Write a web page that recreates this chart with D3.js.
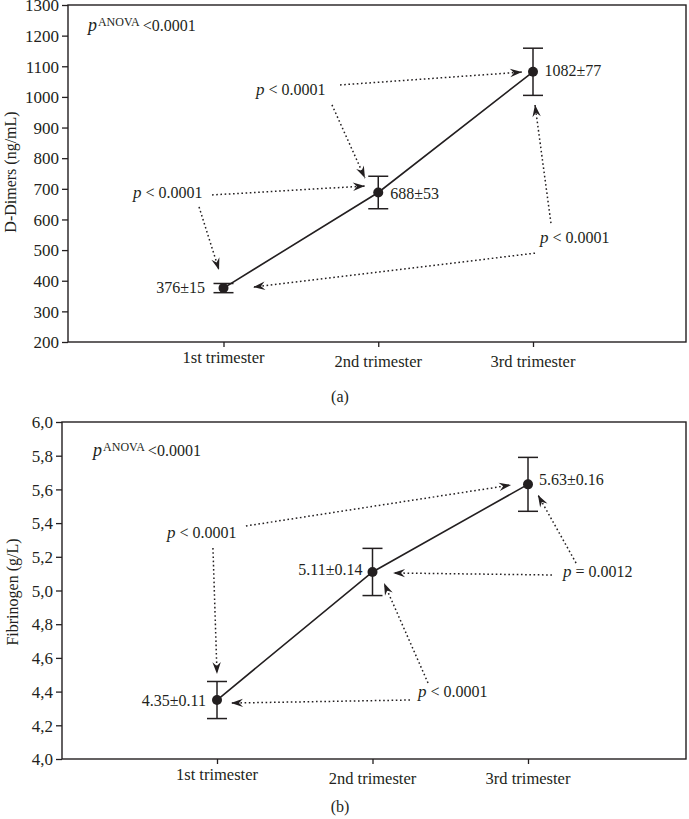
<!DOCTYPE html>
<html><head><meta charset="utf-8">
<script src="https://cdn.jsdelivr.net/npm/d3@7"></script>
<style>
html,body{margin:0;padding:0;background:#fff;}
svg text{font-family:"Liberation Serif","DejaVu Serif",serif;fill:#231f20;}
</style></head>
<body>
<svg id="chart" width="689" height="819"></svg>
<script>
// ---------- data ----------
const categories = ["1st trimester", "2nd trimester", "3rd trimester"];
const dDimerMean = [376, 688, 1082];
const dDimerSD = [15, 53, 77];
const dDimerLabels = ["376±15", "688±53", "1082±77"];
const dDimerTicks = [200, 300, 400, 500, 600, 700, 800, 900, 1000, 1100, 1200, 1300];
const fibMean = [4.35, 5.11, 5.63];
const fibSD = [0.11, 0.14, 0.16];
const fibLabels = ["4.35±0.11", "5.11±0.14", "5.63±0.16"];
const fibTicks = [4.0, 4.2, 4.4, 4.6, 4.8, 5.0, 5.2, 5.4, 5.6, 5.8, 6.0];
const fibTickLabels = ["4,0", "4,2", "4,4", "4,6", "4,8", "5,0", "5,2", "5,4", "5,6", "5,8", "6,0"];
const anovaText = "<0.0001";
// p-value annotations (text + arrows), positions in data units: [categoryIndex, value]
const dDimerPTexts = [
  {rel: "<", val: "0.0001", at: [-0.585, 670]},
  {rel: "<", val: "0.0001", at: [0.21, 1006]},
  {rel: "<", val: "0.0001", at: [2.045, 523]}
];
const dDimerArrows = [
  [[-0.074, 680], [0.914, 709]],
  [[-0.158, 641], [-0.029, 435]],
  [[0.753, 1039], [1.929, 1081]],
  [[0.701, 974], [0.914, 735]],
  [[2.116, 588], [2.013, 974]],
  [[2.013, 490], [0.191, 379]]
];
const fibPTexts = [
  {rel: "<", val: "0.0001", at: [-0.322, 5.312]},
  {rel: "=", val: "0.0012", at: [2.225, 5.080]},
  {rel: "<", val: "0.0001", at: [1.293, 4.368]}
];
const fibArrows = [
  [[0.186, 5.383], [1.891, 5.626]],
  [[-0.026, 5.252], [0.0, 4.504]],
  [[2.154, 5.092], [1.132, 5.104]],
  [[2.309, 5.163], [2.064, 5.567]],
  [[1.241, 4.350], [0.090, 4.332]],
  [[1.357, 4.451], [1.074, 5.044]]
];

// ---------- drawing ----------
const svg = d3.select("#chart");
const ink = "#231f20";
const defs = svg.append("defs");
defs.append("marker")
  .attr("id", "arr").attr("viewBox", "-13 -5 14 10")
  .attr("refX", 0).attr("refY", 0)
  .attr("markerWidth", 14).attr("markerHeight", 10)
  .attr("markerUnits", "userSpaceOnUse").attr("orient", "auto")
  .append("path").attr("d", "M0,0 L-12,-4.2 L-8,0 L-12,4.2 Z").attr("fill", ink);

function panel(cfg) {
  const g = svg.append("g");
  const x = d3.scaleLinear().domain([0, 2]).range(cfg.xRange);
  const y = d3.scaleLinear().domain(cfg.yDomain).range([cfg.bottom, cfg.top]);
  // frame
  g.append("rect").attr("x", cfg.left).attr("y", cfg.top)
    .attr("width", cfg.right - cfg.left).attr("height", cfg.bottom - cfg.top)
    .attr("fill", "none").attr("stroke", ink).attr("stroke-width", 1.4);
  // y axis
  const ya = g.append("g").attr("transform", `translate(${cfg.left},0)`)
    .call(d3.axisLeft(y).tickValues(cfg.ticks).tickSize(6).tickPadding(3)
      .tickFormat((d, i) => cfg.tickLabels[i]));
  ya.select(".domain").remove();
  ya.selectAll("line").attr("stroke", ink).attr("stroke-width", 1.3);
  ya.selectAll("text").attr("font-size", 17).attr("fill", ink)
    .attr("font-family", '"Liberation Serif",serif').attr("dy", "0.34em");
  // x axis
  const xa = g.append("g").attr("transform", `translate(0,${cfg.bottom})`)
    .call(d3.axisBottom(x).tickValues([0, 1, 2]).tickSize(5).tickFormat(""));
  xa.select(".domain").remove();
  xa.selectAll("line").attr("stroke", ink).attr("stroke-width", 1.3);
  g.selectAll(".cat").data(categories).join("text")
    .attr("x", (d, i) => x(i)).attr("y", (d, i) => cfg.bottom + (i === 0 ? 21 : 25))
    .attr("text-anchor", "middle").attr("font-size", 16.5).text(d => d);
  // panel letter
  g.append("text").attr("x", cfg.letterX).attr("y", cfg.bottom + cfg.letterDy)
    .attr("text-anchor", "middle").attr("font-size", 16).text(cfg.letter);
  // y title
  g.append("text").attr("transform", `translate(${cfg.titleX},${cfg.titleY}) rotate(-90)`)
    .attr("text-anchor", "middle").attr("font-size", 16).text(cfg.title);
  // ANOVA
  const an = g.append("text").attr("x", x(cfg.anovaAt[0])).attr("y", y(cfg.anovaAt[1])).attr("font-size", 16);
  an.append("tspan").attr("font-style", "italic").attr("font-size", 18).text("p");
  an.append("tspan").attr("font-size", 12).attr("dy", -5).attr("dx", 1).text("ANOVA");
  an.append("tspan").attr("dy", 5).attr("dx", 3).text(anovaText);
  // arrows
  g.selectAll(".arrow").data(cfg.arrows).join("line")
    .attr("x1", d => x(d[0][0])).attr("y1", d => y(d[0][1]))
    .attr("x2", d => x(d[1][0])).attr("y2", d => y(d[1][1]))
    .attr("stroke", ink).attr("stroke-width", 1.5)
    .attr("stroke-dasharray", "1.6,2.6").attr("marker-end", "url(#arr)");
  // p texts
  cfg.pTexts.forEach(p => {
    const t = g.append("text").attr("x", x(p.at[0])).attr("y", y(p.at[1])).attr("font-size", 16);
    t.append("tspan").attr("font-style", "italic").attr("font-size", 17).text("p");
    t.append("tspan").text(" " + p.rel + " " + p.val);
  });
  // connecting line
  g.append("path").datum(cfg.mean)
    .attr("d", d3.line().x((d, i) => x(i)).y(d => y(d)))
    .attr("fill", "none").attr("stroke", ink).attr("stroke-width", 1.6);
  // error bars
  const eb = g.selectAll(".eb").data(cfg.mean).join("g");
  eb.append("line").attr("x1", (d, i) => x(i)).attr("x2", (d, i) => x(i))
    .attr("y1", (d, i) => y(d - cfg.sd[i])).attr("y2", (d, i) => y(d + cfg.sd[i]))
    .attr("stroke", ink).attr("stroke-width", 1.5);
  [-1, 1].forEach(s => {
    eb.append("line").attr("x1", (d, i) => x(i) - 10).attr("x2", (d, i) => x(i) + 10)
      .attr("y1", (d, i) => y(d + s * cfg.sd[i])).attr("y2", (d, i) => y(d + s * cfg.sd[i]))
      .attr("stroke", ink).attr("stroke-width", 1.5);
  });
  eb.append("circle").attr("cx", (d, i) => x(i)).attr("cy", d => y(d)).attr("r", 5).attr("fill", ink);
  // value labels
  g.selectAll(".vl").data(cfg.labels).join("text")
    .attr("x", (d, i) => x(i) + cfg.labelOff[i][0])
    .attr("y", (d, i) => y(cfg.mean[i]) + cfg.labelOff[i][1])
    .attr("text-anchor", (d, i) => cfg.labelOff[i][0] < 0 ? "end" : "start")
    .attr("font-size", 16).text(d => d);
}

panel({
  left: 68, right: 686, top: 5, bottom: 342,
  xRange: [223.5, 533], yDomain: [200, 1300],
  ticks: dDimerTicks, tickLabels: dDimerTicks.map(String),
  mean: dDimerMean, sd: dDimerSD, labels: dDimerLabels,
  labelOff: [[-18.5, 5], [12, 7], [11.5, 4.5]],
  anovaAt: [-0.876, 1215],
  pTexts: dDimerPTexts, arrows: dDimerArrows,
  title: "D-Dimers (ng/mL)", titleX: 16, titleY: 172,
  letter: "(a)", letterX: 340, letterDy: 60
});
panel({
  left: 62, right: 686, top: 422, bottom: 759,
  xRange: [217, 528], yDomain: [4.0, 6.0],
  ticks: fibTicks, tickLabels: fibTickLabels,
  mean: fibMean, sd: fibSD, labels: fibLabels,
  labelOff: [[-11, 6], [-10, 3], [11, 1]],
  anovaAt: [-0.797, 5.798],
  pTexts: fibPTexts, arrows: fibArrows,
  title: "Fibrinogen (g/L)", titleX: 18, titleY: 592,
  letter: "(b)", letterX: 340, letterDy: 53
});
</script>
</body></html>
